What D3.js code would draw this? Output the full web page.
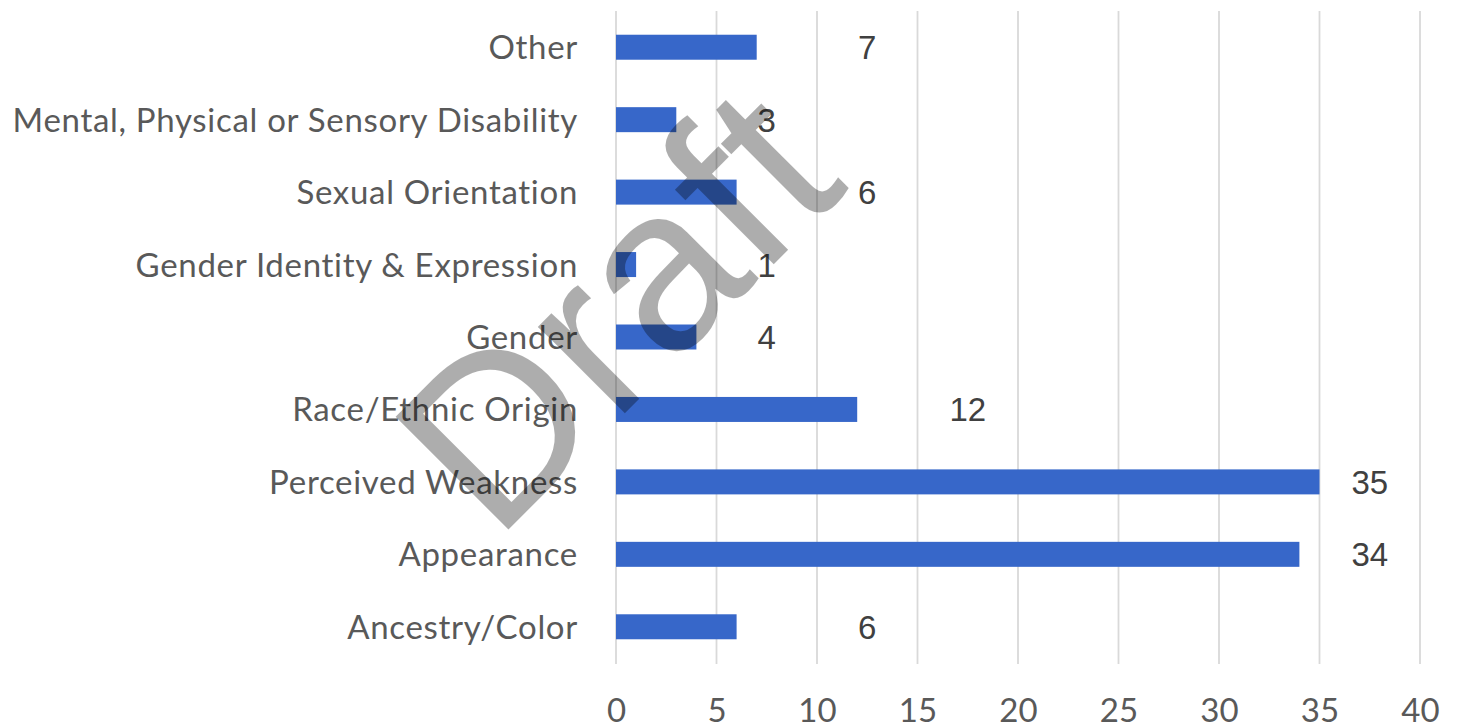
<html>
<head>
<title>Bias categories</title>
<script src="https://d3js.org/d3.v7.min.js"></script>
</head>
<body style="margin:0; background:#fff">
<div id="chart"></div>
<script>
// categories top to bottom, as drawn
var categories = ["Other", "Mental, Physical or Sensory Disability", "Sexual Orientation",
  "Gender Identity & Expression", "Gender", "Race/Ethnic Origin", "Perceived Weakness",
  "Appearance", "Ancestry/Color"];
var counts = [7, 3, 6, 1, 4, 12, 35, 34, 6];
var xTicks = [0, 5, 10, 15, 20, 25, 30, 35, 40];
var watermark = "Draft";

var width = 1459, height = 728;

var svg = d3.select("#chart")
  .append("svg")
  .attr("width", width)
  .attr("height", height);

var x = d3.scaleLinear().domain([0, 40]).range([616, 1420]);
var y = d3.scaleBand().domain(categories).range([11, 663])
  .paddingInner(0.655).paddingOuter(0.3275);

// grid
svg.append("g")
  .selectAll("line")
  .data(xTicks)
  .enter()
  .append("line")
  .attr("x1", function(d) { return x(d); })
  .attr("x2", function(d) { return x(d); })
  .attr("y1", 11)
  .attr("y2", 664)
  .style("stroke", "#d9d9d9")
  .style("stroke-width", 1.8);

// x axis labels
var xAxis = svg.append("g")
  .attr("transform", "translate(0," + 686 + ")")
  .call(d3.axisBottom(x).tickValues(xTicks).tickSize(0).tickPadding(0));
xAxis.select(".domain").remove();
xAxis.selectAll("text")
  .attr("dy", null)
  .attr("y", 36)
  .style("font-family", "Lato")
  .style("font-size", "33px")
  .style("fill", "#595959");

// category labels
var yAxis = svg.append("g")
  .attr("transform", "translate(" + 578 + ",0)")
  .call(d3.axisLeft(y).tickSize(0).tickPadding(0));
yAxis.select(".domain").remove();
yAxis.selectAll("text")
  .attr("dy", null)
  .attr("y", 12)
  .style("font-family", "Lato")
  .style("font-size", "33px")
  .style("letter-spacing", "0.7px")
  .style("fill", "#595959");

// bars
svg.append("g")
  .selectAll("rect")
  .data(counts)
  .enter()
  .append("rect")
  .attr("x", x(0))
  .attr("y", function(d, i) { return y(categories[i]); })
  .attr("width", function(d) { return x(d) - x(0); })
  .attr("height", y.bandwidth())
  .attr("fill", "#3767c9");

// value labels sit in the middle of the grid cell after the bar's end
svg.append("g")
  .selectAll("text")
  .data(counts)
  .enter()
  .append("text")
  .attr("x", function(d) { return x(Math.ceil(d / 5) * 5 + 2.5); })
  .attr("y", function(d, i) { return y(categories[i]) + y.bandwidth() / 2 + 12; })
  .attr("text-anchor", "middle")
  .style("font-family", "Liberation Sans")
  .style("font-size", "33px")
  .style("fill", "#404040")
  .text(function(d) { return d; });

// watermark
svg.append("text")
  .attr("transform", "translate(495,543) rotate(-45)")
  .style("font-family", "Liberation Sans")
  .style("font-size", "232px")
  .style("fill", "#000")
  .style("fill-opacity", 0.32)
  .text(watermark);
</script>
</body>
</html>
